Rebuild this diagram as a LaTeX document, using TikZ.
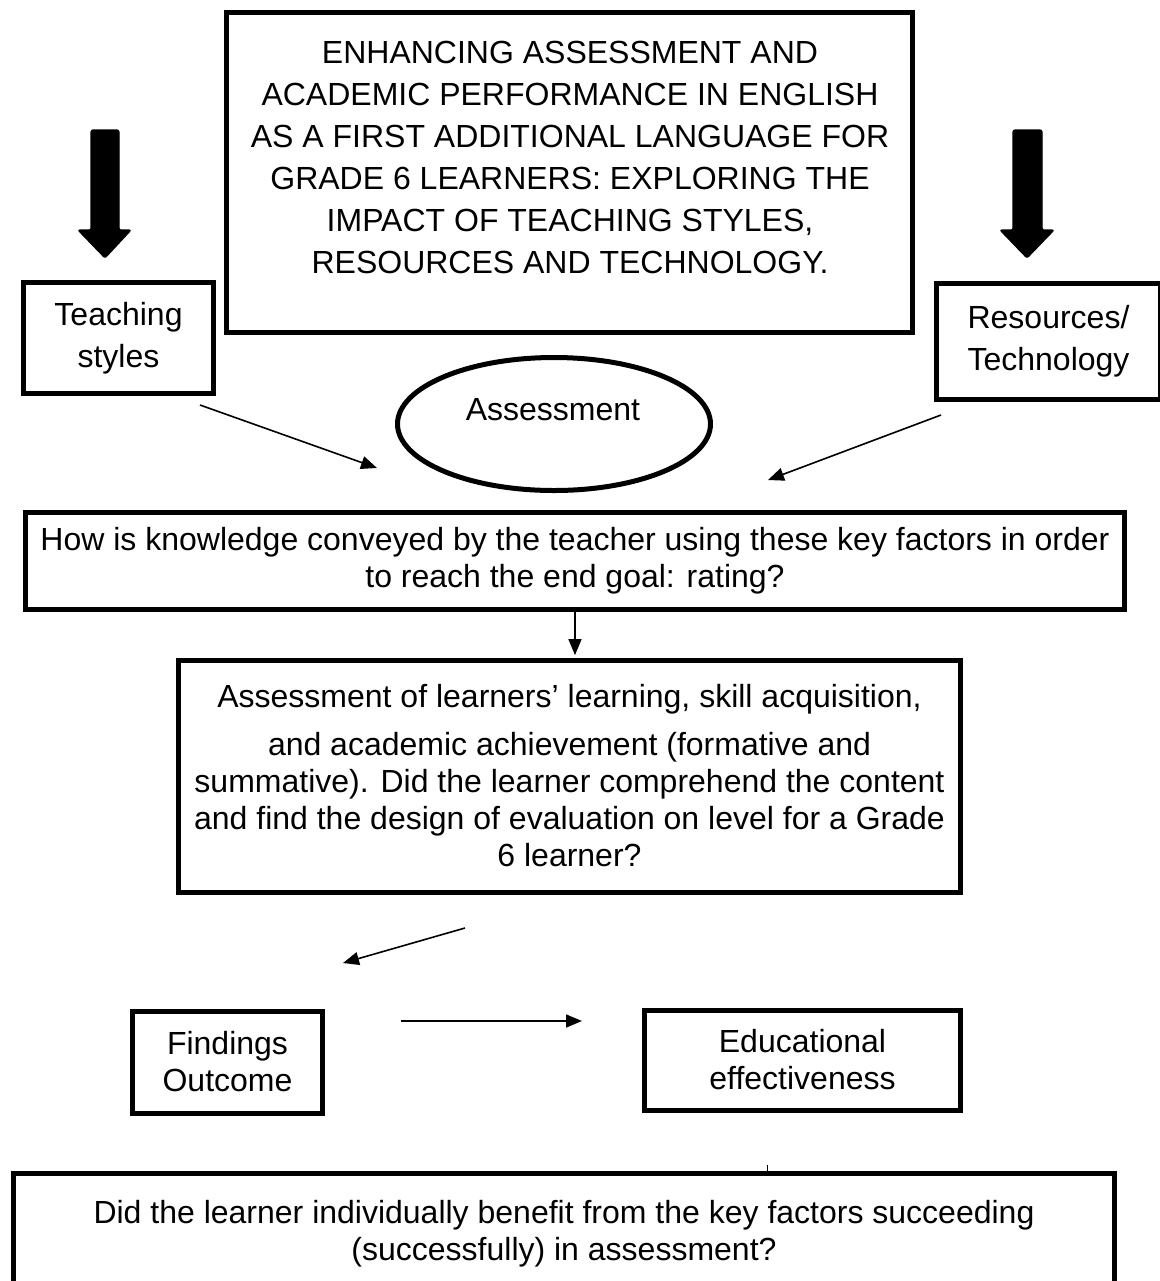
\documentclass[tikz,border=0pt]{standalone}
\usepackage{fontspec}
\setmainfont{Liberation Sans}
\usetikzlibrary{shapes.geometric,arrows.meta}
\begin{document}
\begin{tikzpicture}[x=0.5pt,y=-0.5pt,
  box/.style={draw, line width=2.5pt, rectangle, inner sep=0pt, align=center,
    font=\fontsize{16pt}{18.5pt}\selectfont},
  txt/.style={inner sep=0pt, align=center, font=\fontsize{16pt}{18.5pt}\selectfont},
  wide/.style={font=\fontsize{16pt}{21pt}\selectfont},
  conn/.style={line width=0.8pt, -{Triangle[length=8pt,width=6.5pt]}},
  bigarrow/.style={fill=black, draw=black, line width=0.6pt, rounded corners=1pt}]
\useasboundingbox (0,0) rectangle (1160,1281);
\fill[white] (0,0) rectangle (1160,1281);

% title box
\node[box, minimum width=343pt, minimum height=160pt] (title) at (569.5,172.5) {};
\node[txt, wide, anchor=base] (titletext) at (570,273) {ENHANCING ASSESSMENT AND\\ACADEMIC PERFORMANCE IN ENGLISH\\AS A FIRST ADDITIONAL LANGUAGE FOR\\GRADE 6 LEARNERS: EXPLORING THE\\IMPACT OF TEACHING STYLES,\\RESOURCES AND TECHNOLOGY.};

% big arrows
\draw[bigarrow] (91,130) -- (119,130) -- (119,230) -- (131,230) -- (105,258) -- (78,230) -- (91,230) -- cycle;
\draw[bigarrow] (1013,130) -- (1042,130) -- (1042,230) -- (1054,230) -- (1027,258) -- (1000,230) -- (1013,230) -- cycle;

% side boxes
\node[box, wide, minimum width=95pt, minimum height=55.5pt] (teach) at (118.5,338) {Teaching\\styles};
\node[box, wide, minimum width=112pt, minimum height=58pt] (res) at (1048.5,341.5) {Resources/\\Technology};

% ellipse
\node[draw, ellipse, line width=2.5pt, minimum width=156.5pt, minimum height=66.5pt, inner sep=0pt] (ell) at (554,424) {};
\node[txt, anchor=base] (elltext) at (553,420) {Assessment};

% arrows into middle
\coordinate (a1s) at (200,405); \coordinate (a1e) at (377,468);
\coordinate (a2s) at (941,415); \coordinate (a2e) at (768,480);
\draw[conn] (a1s) -- (a1e);
\draw[conn] (a2s) -- (a2e);

% how box
\node[box, minimum width=549.5pt, minimum height=48.5pt] (how) at (575,561) {How is knowledge conveyed by the teacher using these key factors in order\\to reach the end goal: rating?};

% assessment box
\node[box, minimum width=391pt, minimum height=116pt] (assessbox) at (569.5,776) {Assessment of learners’ learning, skill acquisition,\\[5.5pt]and academic achievement (formative and\\summative). Did the learner comprehend the content\\and find the design of evaluation on level for a Grade\\6 learner?};

\draw[conn, shorten >=1.2pt] (how.south) -- (how.south |- assessbox.north);

% lower arrows
\coordinate (a4s) at (465,928); \coordinate (a4e) at (343,963);
\draw[conn] (a4s) -- (a4e);
\coordinate (a5s) at (401,1021); \coordinate (a5e) at (582,1021);
\draw[conn] (a5s) -- (a5e);

% findings / educational
\node[box, minimum width=95pt, minimum height=51pt] (find) at (227.5,1062) {Findings\\Outcome};
\node[box, minimum width=158pt, minimum height=50pt] (edu) at (802.5,1060) {Educational\\effectiveness};

% bottom box
\node[box, minimum width=550.5pt, minimum height=60.75pt] (bottom) at (564,1234) {Did the learner individually benefit from the key factors succeeding\\(successfully) in assessment?};

% tiny tick above bottom box
\coordinate (tickA) at (767,1165); \coordinate (tickB) at (767,1171);
\draw[line width=0.5pt] (tickA) -- (tickB);
\end{tikzpicture}
\end{document}
